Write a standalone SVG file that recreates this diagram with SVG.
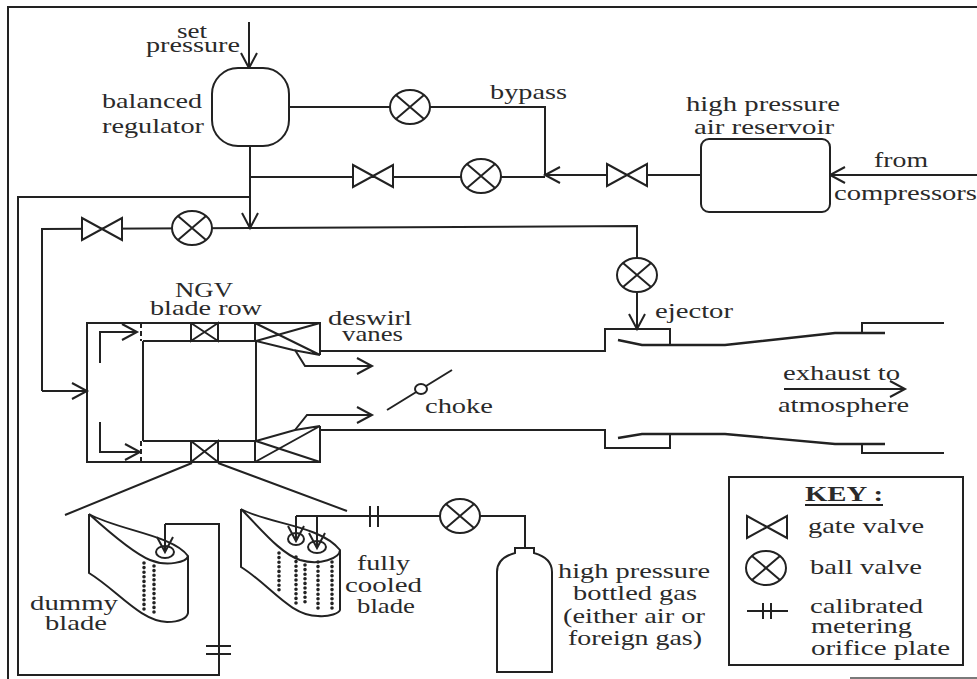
<svg xmlns="http://www.w3.org/2000/svg" width="977" height="679" viewBox="0 0 977 679">
<style>
text{font-family:"Liberation Serif","Times New Roman",serif;font-size:21px;fill:#2a2a2a}
.l{fill:none;stroke:#222;stroke-width:2}
.t{stroke-width:2.4}
.a{marker-end:url(#arr)}
.d{fill:none;stroke:#222;stroke-width:3.6;stroke-linecap:round;stroke-dasharray:0 4.6}
.f{fill:#fff;stroke:#222;stroke-width:2}
</style>
<defs>
<marker id="arr" markerUnits="userSpaceOnUse" markerWidth="22" markerHeight="22" refX="19" refY="11" orient="auto" overflow="visible"><path d="M4,3 L19,11 L4,19" fill="none" stroke="#222" stroke-width="2"/></marker>
<g id="gate"><path d="M-20,-11 L20,11 V-11 L-20,11 Z" class="f"/></g>
<g id="ball"><ellipse rx="20" ry="17" class="f"/><path d="M-14,-12 L14,12 M-14,12 L14,-12" class="l"/></g>
</defs>
<rect width="977" height="679" fill="#fff"/>
<g id="connectors">
<path class="l" d="M977,7 H8 V679"/>
<path class="l" d="M850,678 H977" stroke-opacity=".6"/>
<path class="l" d="M250,197 H18 V675 H219 V524 H165"/>
<path class="l a" d="M165,524 V552"/>
<path class="l a" d="M249,22 V68"/>
<path class="l a" d="M250,146 V228"/>
<path class="l" d="M250,177 H545 M289,107 H545 V175"/>
<path class="l a" d="M700,175 H545"/>
<path class="l a" d="M977,175 H830"/>
<path class="l" d="M42,391 V229 L250,228 L637,226 V275"/>
<path class="l a" d="M42,391 H87"/>
<path class="l a" d="M637,275 V329"/>
<path class="l a" d="M100,363 V332 H137"/>
<path class="l a" d="M100,422 V452 H140"/>
<path class="l a" d="M295,350 L305,366 H372"/>
<path class="l a" d="M295,430 L307,415 H372"/>
<path class="l" d="M320,351 H605 V329 H670 V345"/>
<path class="l t" d="M618,340 L642,345 H725 L835,333 H885"/>
<path class="l" d="M862,333 V323 H944"/>
<path class="l" d="M320,430 H605 V448 H670 V434"/>
<path class="l t" d="M618,438 L642,434 H725 L835,444 H885"/>
<path class="l" d="M862,444 V453 H944"/>
<path class="l a" d="M784,389 H905"/>
<path class="l" d="M192,463 L65,515 M218,463 L347,511"/>
<path class="l" d="M387,410 L452,370"/>
<path class="l" d="M296,516 H525 V548"/>
<path class="l a" d="M296,516 V541"/>
<path class="l a" d="M317,516 V548"/>
<path class="l" d="M206,646 H231 M206,654 H231"/>
<path class="l" d="M370,506 V527 M378,506 V527"/>
</g>
<g id="regulator"><rect x="212" y="68" width="77" height="78" rx="26" class="f"/><text x="177" y="38" textLength="30" lengthAdjust="spacingAndGlyphs">set</text><text x="146" y="52" textLength="94" lengthAdjust="spacingAndGlyphs">pressure</text><text x="102" y="108" textLength="100" lengthAdjust="spacingAndGlyphs">balanced</text><text x="102" y="133" textLength="102" lengthAdjust="spacingAndGlyphs">regulator</text></g>
<g id="ball1"><use href="#ball" x="410" y="107"/><text x="490" y="99" textLength="77" lengthAdjust="spacingAndGlyphs">bypass</text></g>
<g id="gate1"><use href="#gate" x="373" y="176"/></g>
<g id="ball2"><use href="#ball" x="481" y="176"/></g>
<g id="gate2"><use href="#gate" x="627" y="175"/></g>
<g id="reservoir"><rect x="701" y="139" width="129" height="73" rx="8" class="f"/><text x="686" y="111" textLength="154" lengthAdjust="spacingAndGlyphs">high pressure</text><text x="694" y="134" textLength="140" lengthAdjust="spacingAndGlyphs">air reservoir</text></g>
<g id="from"><text x="874" y="167" textLength="54" lengthAdjust="spacingAndGlyphs">from</text><text x="834" y="200" textLength="143" lengthAdjust="spacingAndGlyphs">compressors</text></g>
<g id="gate3"><use href="#gate" x="102" y="229"/></g>
<g id="ball3"><use href="#ball" x="192" y="228"/></g>
<g id="ball4"><use href="#ball" x="637" y="275"/></g>
<g id="ejector"><text x="655" y="318" textLength="78" lengthAdjust="spacingAndGlyphs">ejector</text></g>
<g id="exhaust"><text x="783" y="380" textLength="117" lengthAdjust="spacingAndGlyphs">exhaust to</text><text x="778" y="412" textLength="131" lengthAdjust="spacingAndGlyphs">atmosphere</text></g>
<g id="ngv">
<path class="l" d="M141,323 H87 V462 H141 M143,341 V441 M143,341 H255 V323 M143,441 H255 V462"/>
<path class="l" d="M141,323 V341 M141,441 V462" stroke-dasharray="5 3"/>
<path class="l" d="M141,323 H320 V355 M141,462 H320 V426"/>
<path class="l" d="M191,323 V341 L218,323 V341 L191,323 M191,441 V462 L218,441 V462 L191,441"/>
<path class="l" d="M256,341 V441"/>
<path class="l" d="M255,323 L320,355 L293,350 L256,341 L320,323"/>
<path class="l" d="M255,462 L320,426 L295,430 L256,441 L320,462"/>
<text x="175" y="297" textLength="58" lengthAdjust="spacingAndGlyphs">NGV</text>
<text x="150" y="315" textLength="112" lengthAdjust="spacingAndGlyphs">blade row</text>
<text x="328" y="325" textLength="84" lengthAdjust="spacingAndGlyphs">deswirl</text>
<text x="342" y="341" textLength="61" lengthAdjust="spacingAndGlyphs">vanes</text>
</g>
<g id="choke"><ellipse cx="421" cy="389" rx="6" ry="5" class="f"/><text x="425" y="413" textLength="68" lengthAdjust="spacingAndGlyphs">choke</text></g>
<g id="dummy-blade">
<path class="l" d="M89,514 V573 C117,590 140,621 167,622 C180,622 187,618 188,613 V556 C173,535 117,530 89,514 C110,533 133,553 150,560 C167,567 187,562 188,556"/>
<ellipse cx="165" cy="552" rx="9" ry="6" class="l"/>
<path class="d" d="M144,563 V613 M154,566 V613"/>
<text x="30" y="610" textLength="88" lengthAdjust="spacingAndGlyphs">dummy</text>
<text x="45" y="630" textLength="62" lengthAdjust="spacingAndGlyphs">blade</text>
</g>
<g id="cooled-blade">
<path class="l" d="M241,509 V567 C270,585 290,616 318,616 C330,617 339,613 340,610 V550 C320,525 268,524 241,509 C262,530 280,553 300,560 C320,566 340,558 340,550"/>
<ellipse cx="296" cy="539" rx="8" ry="6" class="l"/>
<ellipse cx="317" cy="547" rx="9" ry="6" class="l"/>
<path class="d" d="M279,553 V590 M296,557 V603 M305,565 V602 M318,562 V612 M332,562 V610"/>
<text x="357" y="570" textLength="53" lengthAdjust="spacingAndGlyphs">fully</text>
<text x="345" y="592" textLength="77" lengthAdjust="spacingAndGlyphs">cooled</text>
<text x="357" y="613" textLength="58" lengthAdjust="spacingAndGlyphs">blade</text>
</g>
<g id="ball5"><use href="#ball" x="460" y="516"/></g>
<g id="bottle">
<path class="f" d="M497,672 V572 Q497,558 515,553 V548 H534 V553 Q552,558 552,572 V672 Z"/>
<text x="558" y="578" textLength="152" lengthAdjust="spacingAndGlyphs">high pressure</text>
<text x="573" y="600" textLength="124" lengthAdjust="spacingAndGlyphs">bottled gas</text>
<text x="563" y="623" textLength="142" lengthAdjust="spacingAndGlyphs">(either air or</text>
<text x="568" y="645" textLength="134" lengthAdjust="spacingAndGlyphs">foreign gas)</text>
</g>
<g id="key">
<rect x="729" y="477" width="234" height="188" class="l"/>
<text x="805" y="501" textLength="78" lengthAdjust="spacingAndGlyphs" font-weight="bold">KEY :</text>
<path class="l" d="M805,505 H883"/>
<use href="#gate" x="767" y="527"/>
<text x="808" y="533" textLength="116" lengthAdjust="spacingAndGlyphs">gate valve</text>
<use href="#ball" x="766" y="568"/>
<text x="810" y="574" textLength="112" lengthAdjust="spacingAndGlyphs">ball valve</text>
<path class="l" d="M747,611 H788 M763,603 V619 M771,603 V619"/>
<text x="810" y="613" textLength="113" lengthAdjust="spacingAndGlyphs">calibrated</text>
<text x="811" y="633" textLength="101" lengthAdjust="spacingAndGlyphs">metering</text>
<text x="811" y="655" textLength="139" lengthAdjust="spacingAndGlyphs">orifice plate</text>
</g>
</svg>
